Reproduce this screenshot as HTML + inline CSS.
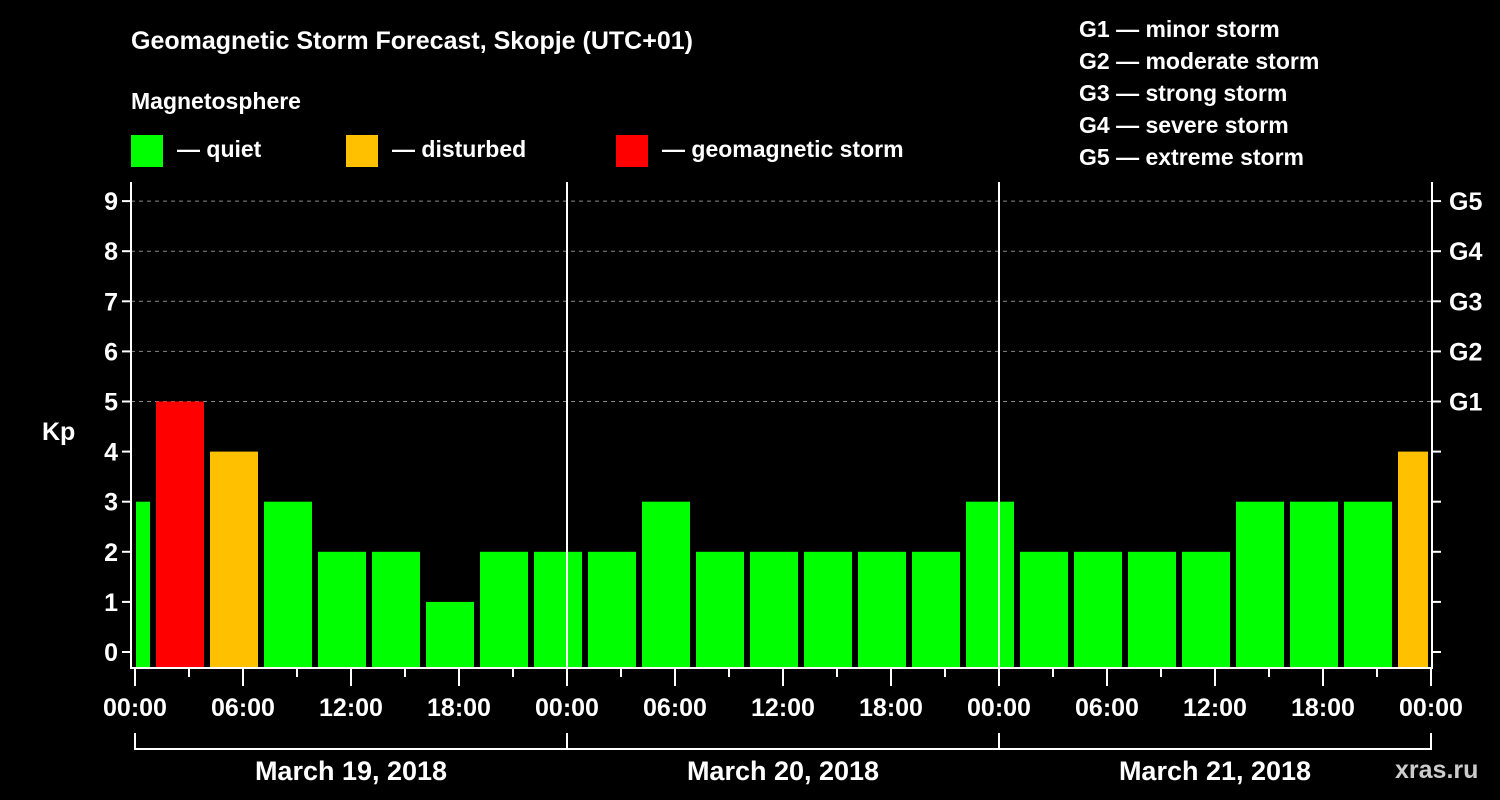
<!DOCTYPE html>
<html><head><meta charset="utf-8"><style>
body{margin:0;background:#000;width:1500px;height:800px;overflow:hidden}
svg{display:block}
text{font-family:"Liberation Sans",Arial,sans-serif;font-weight:bold;fill:#fff}
</style></head><body>
<svg id="c" width="1500" height="800">
<text x="131" y="49" font-size="25">Geomagnetic Storm Forecast, Skopje (UTC+01)</text>
<text x="131" y="109" font-size="23">Magnetosphere</text>
<rect x="131" y="135" width="32" height="32" fill="#00ff00"/>
<text x="177" y="157" font-size="23">— quiet</text>
<rect x="346" y="135" width="32" height="32" fill="#ffc000"/>
<text x="392" y="157" font-size="23">— disturbed</text>
<rect x="616" y="135" width="32" height="32" fill="#ff0000"/>
<text x="662" y="157" font-size="23">— geomagnetic storm</text>
<g font-size="23">
<text x="1079" y="37">G1 — minor storm</text>
<text x="1079" y="69">G2 — moderate storm</text>
<text x="1079" y="101">G3 — strong storm</text>
<text x="1079" y="133">G4 — severe storm</text>
<text x="1079" y="165">G5 — extreme storm</text>
</g>
<text x="42" y="440" font-size="25">Kp</text>
<text x="1395" y="778" font-size="25" fill="#ccc" style="fill:#ccc">xras.ru</text>
<g id="plot"></g>
</svg>
<script>
const kpValues=[3,5,4,3,2,2,1,2,2,2,3,2,2,2,2,2,3,2,2,2,2,3,3,3,4];
const dayLabels=["March 19, 2018","March 20, 2018","March 21, 2018"];
const hourLabels=["00:00","06:00","12:00","18:00"];
const gLabels=["G1","G2","G3","G4","G5"];
const x0=135,pxH=18,yK=v=>652-v*50.1;
const X=h=>x0+h*pxH; // hours since Mar 19 00:00 local
const L=131,R=1432,T=182,B=668;
const g=document.getElementById('plot');
const NS='http://www.w3.org/2000/svg';
function mk(t,a){const e=document.createElementNS(NS,t);for(const k in a)e.setAttribute(k,a[k]);g.appendChild(e);return e;}
// grid
for(let v=5;v<=9;v++){const e=mk('line',{x1:L,x2:R,y1:yK(v),y2:yK(v),stroke:'#888','stroke-dasharray':'4,4','stroke-width':1});

}
// bars
kpValues.forEach((v,i)=>{const start=-2+3*i;let x1=X(start)+3,x2=X(start+3)-3;x1=Math.max(x1,L+5);x2=Math.min(x2,R-4);
const col=v>=5?'#ff0000':(v>=4?'#ffc000':'#00ff00');
const e=mk('rect',{x:x1,y:yK(v),width:x2-x1,height:B-yK(v),fill:col});

});
// day separators
[1,2].forEach(d=>{const e=mk('line',{x1:X(24*d),x2:X(24*d),y1:T,y2:B,stroke:'#fff','stroke-width':2});

});
// axes
[[L,T,L,B],[R,T,R,B],[L-1,B,R+1,B]].forEach(a=>{const e=mk('line',{x1:a[0],y1:a[1],x2:a[2],y2:a[3],stroke:'#fff','stroke-width':2});

});
// y ticks
for(let v=0;v<=9;v++){mk('line',{x1:L-9,x2:L,y1:yK(v),y2:yK(v),stroke:'#fff','stroke-width':2});mk('line',{x1:R,x2:R+9,y1:yK(v),y2:yK(v),stroke:'#fff','stroke-width':2});
const t=mk('text',{x:L-13,y:yK(v)+9,'font-size':25,'text-anchor':'end'});t.textContent=v;

}
gLabels.forEach((s,i)=>{const t=mk('text',{x:R+17,y:yK(5+i)+9,'font-size':25});t.textContent=s;

});
// x ticks
for(let h=0;h<=72;h+=3){const major=h%6==0;mk('line',{x1:X(h),x2:X(h),y1:B,y2:B+(major?18:9),stroke:'#fff','stroke-width':2});
if(major){const t=mk('text',{x:X(h),y:B+48,'font-size':25,'text-anchor':'middle'});t.textContent=hourLabels[(h/6)%4];

}}
// day brackets
mk('line',{x1:X(0),x2:X(72),y1:749,y2:749,stroke:'#fff','stroke-width':2});
for(let d=0;d<=3;d++)mk('line',{x1:X(24*d),x2:X(24*d),y1:733,y2:750,stroke:'#fff','stroke-width':2});
dayLabels.forEach((s,d)=>{const t=mk('text',{x:X(24*d+12),y:780,'font-size':27,'text-anchor':'middle'});t.textContent=s;

});
</script>
</body></html>
